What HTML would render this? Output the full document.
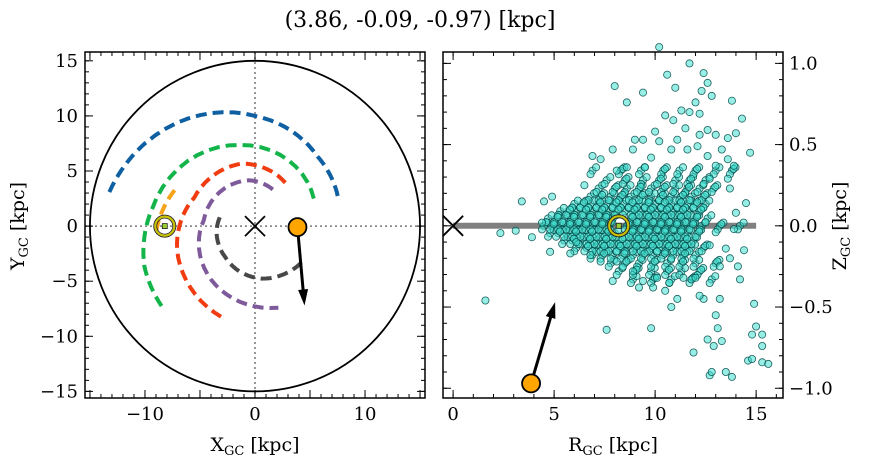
<!DOCTYPE html>
<html><head><meta charset="utf-8"><style>
body{margin:0;background:#fff}
svg{display:block;font-family:"DejaVu Serif","Liberation Serif",serif}
</style></head><body>
<svg id="c" width="874" height="464" viewBox="0 0 874 464"></svg>
<script>
// ---- data ----
const armBlueAng=[20,48,90,143,167], armBlueR=[8.0,8.5,10.0,12.5,13.6];
const armGreenAng=[25,101,171,200,222], armGreenR=[5.9,7.5,9.5,10.7,11.2];
const armRedAng=[55,102,155,197,250], armRedR=[4.8,5.8,6.1,7.4,8.8];
const armPurpleAng=[64,98,174,231,286], armPurpleR=[3.7,4.2,4.7,6.3,7.7];
const armGrayAng=[166,226,277,325], armGrayR=[3.3,3.9,4.8,5.4];
const armOrangeAng=[156,186], armOrangeR=[8.0,9.1];
const sunXY=[-8.2,0], starXY=[3.86,-0.09], starVelTip=[4.5,-7.2];
const sunRZ=[8.2,0], starRZ=[3.86,-0.97], starRZTip=[5.05,-0.47];
const xTicksL=[-10,0,10], yTicksL=[-15,-10,-5,0,5,10,15];
const xTicksR=[0,5,10,15], yTicksR=[-1.0,-0.5,0.0,0.5,1.0];
const coreRows=[
[0.00,[4.5,4.9,5.3,5.7,6.1,6.5,6.9,7.3,7.7,8.6,9.0,9.4,9.8,10.2,10.6,11.0,11.4,11.8,12.3,13.2,14.2]],
[0.045,[4.7,5.1,5.5,5.9,6.3,6.7,7.1,7.5,7.9,8.8,9.2,9.6,10.0,10.4,10.8,11.2,11.6,12.0,12.6]],
[-0.045,[4.8,5.2,5.6,6.0,6.4,6.8,7.2,7.6,8.0,8.8,9.2,9.6,10.0,10.4,10.8,11.2,11.6,12.1]],
[0.09,[5.3,5.7,6.1,6.5,6.9,7.3,7.7,8.1,8.5,8.9,9.3,9.7,10.1,10.5,10.9,11.3,11.7,12.2]],
[-0.09,[5.5,5.9,6.3,6.7,7.1,7.5,7.9,8.3,8.7,9.1,9.5,9.9,10.3,10.7,11.1,11.5,11.9]],
[0.135,[6.0,6.4,6.8,7.2,7.6,8.0,8.4,8.8,9.2,9.6,10.0,10.4,10.8,11.2,11.6,12.0,12.5]],
[-0.135,[6.1,6.6,7.0,7.4,7.8,8.2,8.6,9.0,9.4,9.8,10.2,10.6,11.0,11.4,11.8,12.4]],
[0.18,[6.8,7.3,7.8,8.3,8.8,9.3,9.8,10.3,10.8,11.3,11.8,12.4]],
[-0.18,[6.9,7.4,7.9,8.4,8.9,9.4,9.9,10.4,10.9,11.4,12.0]],
[0.23,[7.2,8.0,8.6,9.2,9.8,10.4,11.0,11.6,12.2,12.9]],
[-0.23,[7.8,8.5,9.2,9.9,10.6,11.3,12.0,13.0]],
[0.28,[7.6,8.5,9.4,10.2,11.0,11.7,12.5]],
[-0.28,[8.2,9.0,9.8,10.6,11.3,12.2]],
[0.34,[6.9,8.3,9.3,10.4,11.2,12.0,13.0,13.8]],
[-0.33,[8.9,9.9,10.8,11.8,12.8]]
];
const outR=[3.4,2.34,3.1,3.9,1.6,4.8,5.8,7.6,9.8,8.0,10.2,11.7,12.4,8.6,9.4,10.6,11.0,12.6,12.3,13.8,14.3,14.7,14.5,14.0,13.9,14.4,14.1,14.2,14.9,15.0,15.3,14.8,15.3,14.6,14.8,15.3,15.6,12.7,12.8,13.5,13.8,11.9,12.6,12.9,13.3,13.1,13.0,12.4,13.2,10.8,11.1,10.5,9.9,9.2,7.9,8.9,8.1,11.8,12.2,13.7,13.5,13.2,6.9,7.3,7.9,8.9,9.4,10.0,10.5,10.9,11.3,11.7,12.0,12.2,12.8,11.5,12.2,12.6,13.0,13.6,14.0,13.3,13.6,13.9,13.6,13.7,9.0,10.2,11.1,10.8,11.6,12.1,12.6,13.0,12.7,9.8,9.5,8.6,8.1,6.5,4.9,4.5,4.4,7.3,6.8,6.1,12.7,13.0,12.0,11.4,10.7,10.1,9.4];
const outZ=[0.15,-0.045,-0.03,-0.07,-0.46,-0.16,-0.17,-0.64,-0.63,0.86,1.1,1.0,0.94,0.76,0.82,0.93,0.85,0.88,0.83,0.77,0.66,0.45,0.14,0.08,-0.02,-0.15,-0.25,-0.33,-0.48,-0.62,-0.67,-0.67,-0.74,-0.83,-0.82,-0.84,-0.85,-0.92,-0.9,-0.9,-0.93,-0.78,-0.70,-0.74,-0.71,-0.63,-0.55,-0.45,-0.45,-0.5,-0.45,-0.4,-0.38,-0.38,-0.34,-0.28,-0.22,-0.33,-0.43,-0.2,-0.14,-0.25,0.43,0.41,0.47,0.47,0.53,0.58,0.68,0.65,0.71,0.70,0.76,0.69,0.80,0.60,0.56,0.59,0.56,0.54,0.57,0.47,0.41,0.37,0.29,0.23,0.53,0.52,0.53,0.47,0.47,0.49,0.43,0.37,0.29,0.42,0.36,0.36,0.34,0.25,0.18,0.15,0.02,-0.22,-0.18,-0.1,-0.12,-0.04,-0.32,-0.32,-0.35,-0.32,-0.34];

// ---- drawing ----
const svg=document.getElementById('c'),NS='http://www.w3.org/2000/svg';
function el(t,a,p){const e=document.createElementNS(NS,t);for(const k in a)e.setAttribute(k,a[k]);(p||svg).appendChild(e);return e;}
const L={x0:85,x1:425,y0:52,y1:398,xmin:-15.45,xmax:15.45,ymin:-15.6,ymax:15.8};
const R={x0:443,x1:783,y0:52,y1:398,xmin:-0.5,xmax:16.33,ymin:-1.06,ymax:1.07};
const sx=(P,v)=>P.x0+(v-P.xmin)/(P.xmax-P.xmin)*(P.x1-P.x0);
const sy=(P,v)=>P.y1-(v-P.ymin)/(P.ymax-P.ymin)*(P.y1-P.y0);

const t=el('text',{x:420,y:27,'font-size':22,'text-anchor':'middle'});t.textContent='(3.86, -0.09, -0.97) [kpc]';



// left panel
const gL=el('g',{});


el('line',{x1:sx(L,0),x2:sx(L,0),y1:L.y0,y2:L.y1,stroke:'#777','stroke-width':1.5,'stroke-dasharray':'2,3'},gL);
el('line',{x1:L.x0,x2:L.x1,y1:sy(L,0),y2:sy(L,0),stroke:'#777','stroke-width':1.5,'stroke-dasharray':'2,3'},gL);
const circ=el('ellipse',{cx:sx(L,0),cy:sy(L,0),rx:sx(L,15)-sx(L,0),ry:sy(L,-15)-sy(L,0),fill:'none',stroke:'#000','stroke-width':1.8},gL);


function arm(ang,rr,col,name){
  let pts=[];
  for(let i=0;i<ang.length-1;i++){for(let s=0;s<10;s++){const f=s/10,a=(ang[i]+(ang[i+1]-ang[i])*f)*Math.PI/180,r=rr[i]+(rr[i+1]-rr[i])*f;pts.push([r*Math.cos(a),r*Math.sin(a)]);}}
  const a=ang[ang.length-1]*Math.PI/180,r=rr[rr.length-1];pts.push([r*Math.cos(a),r*Math.sin(a)]);
  const p=el('polyline',{points:pts.map(q=>sx(L,q[0]).toFixed(1)+','+sy(L,q[1]).toFixed(1)).join(' '),fill:'none',stroke:col,'stroke-width':4,'stroke-dasharray':'11,6'},gL);
  
  
}
arm(armBlueAng,armBlueR,'#0f5fa3','arm-blue');
arm(armGreenAng,armGreenR,'#13b54a','arm-green');
arm(armRedAng,armRedR,'#f03c10','arm-red');
arm(armPurpleAng,armPurpleR,'#7e5a9b','arm-purple');
arm(armGrayAng,armGrayR,'#484848','arm-gray');
arm(armOrangeAng,armOrangeR,'#f7a21b','arm-orange');
function cross(x,y,name){const g=el('g',{stroke:'#000','stroke-width':1.8});el('line',{x1:x-10,y1:y-10,x2:x+10,y2:y+10},g);el('line',{x1:x-10,y1:y+10,x2:x+10,y2:y-10},g);}
function sun(x,y,name){const g=el('g',{});el('circle',{cx:x,cy:y,r:11,fill:'none',stroke:'#222','stroke-width':1},g);el('circle',{cx:x,cy:y,r:9.5,fill:'none',stroke:'#c8c000','stroke-width':2.2},g);el('circle',{cx:x,cy:y,r:8,fill:'none',stroke:'#222','stroke-width':0.8},g);el('rect',{x:x-2.5,y:y-2.5,width:5,height:5,fill:'#9acd32',stroke:'#222','stroke-width':0.8},g);}
function arrowDot(x,y,tx,ty,name){const g=el('g',{});const dx=tx-x,dy=ty-y,l=Math.hypot(dx,dy),ux=dx/l,uy=dy/l;
  el('line',{x1:x,y1:y,x2:tx-ux*10,y2:ty-uy*10,stroke:'#000','stroke-width':3},g);
  el('polygon',{points:`${tx},${ty} ${tx-ux*16-uy*5},${ty-uy*16+ux*5} ${tx-ux*16+uy*5},${ty-uy*16-ux*5}`,fill:'#000'},g);
  el('circle',{cx:x,cy:y,r:9,fill:'#ffa500',stroke:'#000','stroke-width':1.8},g);
  }
cross(sx(L,0),sy(L,0),'galactic-center-xy');
sun(sx(L,sunXY[0]),sy(L,sunXY[1]),'sun-xy');
arrowDot(sx(L,starXY[0]),sy(L,starXY[1]),sx(L,starVelTip[0]),sy(L,starVelTip[1]),'star-xy');

// right panel
const gR=el('g',{});


el('line',{x1:sx(R,0),x2:sx(R,15),y1:sy(R,0),y2:sy(R,0),stroke:'#808080','stroke-width':6},gR);
const gS=el('g',{fill:'rgba(64,224,208,0.55)',stroke:'rgba(0,70,70,0.85)','stroke-width':0.8},gR);


function dot(r,z){const c=el('circle',{cx:sx(R,r).toFixed(1),cy:sy(R,z).toFixed(1),r:3.6},gS);}
coreRows.forEach(row=>row[1].forEach(r=>dot(r,row[0])));
coreRows.forEach(row=>row[1].forEach(r=>dot(r+0.18,row[0]+0.02)));
coreRows.forEach(row=>row[1].forEach(r=>dot(r-0.1,row[0]-0.022)));
coreRows.forEach(row=>row[1].forEach((r,i)=>{if(i%2)dot(r+0.08,row[0]+0.01)}));
outR.forEach((r,i)=>dot(r,outZ[i]));
cross(sx(R,0),sy(R,0),'galactic-center-rz');
sun(sx(R,sunRZ[0]),sy(R,sunRZ[1]),'sun-rz');
arrowDot(sx(R,starRZ[0]),sy(R,starRZ[1]),sx(R,starRZTip[0]),sy(R,starRZTip[1]),'star-rz');

// axes
function frame(P,name){const r=el('rect',{x:P.x0,y:P.y0,width:P.x1-P.x0,height:P.y1-P.y0,fill:'none',stroke:'#000','stroke-width':1.5});}
function ticks(P,axis,from,to,step,len){for(let v=Math.ceil(from/step)*step;v<=to+1e-9;v+=step){if(axis=='x'){const x=sx(P,v);el('line',{x1:x,x2:x,y1:P.y1,y2:P.y1-len,stroke:'#000','stroke-width':1});el('line',{x1:x,x2:x,y1:P.y0,y2:P.y0+len,stroke:'#000','stroke-width':1});}else{const y=sy(P,v);el('line',{x1:P.x0,x2:P.x0+len,y1:y,y2:y,stroke:'#000','stroke-width':1});el('line',{x1:P.x1,x2:P.x1-len,y1:y,y2:y,stroke:'#000','stroke-width':1});}}}
frame(L,'xy-axes-frame');frame(R,'rz-axes-frame');
ticks(L,'x',L.xmin,L.xmax,1,4);ticks(L,'x',L.xmin,L.xmax,5,8);ticks(L,'y',L.ymin,L.ymax,1,4);ticks(L,'y',L.ymin,L.ymax,5,8);
ticks(R,'x',R.xmin,R.xmax,1,4);ticks(R,'x',R.xmin,R.xmax,5,8);ticks(R,'y',R.ymin,R.ymax,0.1,4);ticks(R,'y',R.ymin,R.ymax,0.5,8);
const fmt=v=>(v<0?'\u2212':'')+Math.abs(v);
xTicksL.forEach(v=>{const e=el('text',{x:sx(L,v),y:420,'font-size':18,'text-anchor':'middle'});e.textContent=fmt(v);});
yTicksL.forEach(v=>{const e=el('text',{x:78,y:sy(L,v)+6,'font-size':18,'text-anchor':'end'});e.textContent=fmt(v);});
xTicksR.forEach(v=>{const e=el('text',{x:sx(R,v),y:420,'font-size':18,'text-anchor':'middle'});e.textContent=fmt(v);});
yTicksR.forEach(v=>{const e=el('text',{x:789,y:sy(R,v)+6,'font-size':18,'text-anchor':'start'});e.textContent=fmt(v)+(v%1===0?'.0':'');});
function lab(x,y,main,rot,name){const e=el('text',{x:x,y:y,'font-size':19,'text-anchor':'middle',transform:rot?`rotate(${rot} ${x} ${y})`:''});e.innerHTML=`${main}<tspan font-size="13" dy="4">GC</tspan><tspan dy="-4"> [kpc]</tspan>`;}
lab(255,451,'X',0,'x-axis-title');
lab(24,226,'Y',-90,'y-axis-title');
lab(613,451,'R',0,'r-axis-title');
lab(846,226,'Z',-90,'z-axis-title');
</script>
</body></html>
